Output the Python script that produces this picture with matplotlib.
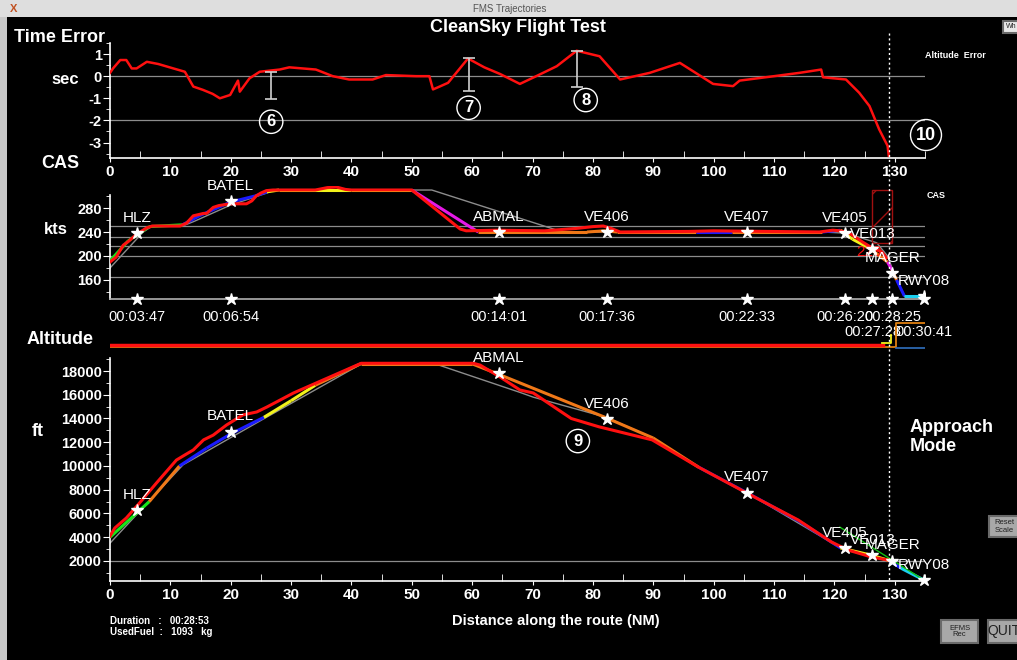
import matplotlib
matplotlib.use("Agg")
import matplotlib.pyplot as plt
from matplotlib.lines import Line2D
from matplotlib.patches import Rectangle
from matplotlib.ticker import MultipleLocator

plt.rcParams["font.family"] = ["Liberation Sans", "DejaVu Sans"]
plt.rcParams["axes.unicode_minus"] = False

W, H = 1017, 660

# ---- time error (sec) along route (NM)
te_nm = [0, 0.5, 1.7, 2.7, 3.6, 4.4, 6.1, 8, 10.5, 12.4, 13.8, 15.4, 17, 18.2, 19.9,
         20.4, 21.2, 21.5, 23.1, 24.8, 28.1, 29.7, 34.1, 36.9, 39.6, 43.5, 45.7,
         50.7, 52.9, 53.5, 54.6, 56, 59.3, 62, 64.6, 67.9, 70.6, 74, 77.3, 81.1,
         84.5, 89.4, 94.4, 99.9, 103.2, 104.3, 110, 114.2, 117.8, 118.1, 121.9,
         124.1, 125.8, 127.4, 128.8, 129]
te_sec = [0.15, 0.35, 0.73, 0.73, 0.35, 0.35, 0.65, 0.55, 0.35, 0.2, -0.47, -0.62,
          -0.8, -1.0, -0.85, -0.6, -0.2, -0.7, -0.1, 0.2, 0.3, 0.4, 0.3, 0.0,
          -0.15, -0.15, 0.05, 0.0, 0.0, -0.6, -0.47, -0.3, 0.8, 0.4, 0.1, -0.35,
          0.0, 0.45, 1.15, 0.9, -0.15, 0.15, 0.6, -0.35, -0.45, -0.2, 0.0, 0.15,
          0.3, -0.05, -0.15, -0.75, -1.35, -2.4, -3.15, -3.6]

# error bars + circled notes in the time error panel
bar_nm = [26.6, 59.4, 77.3]
bar_top = [0.2, 0.8, 1.15]
bar_bot = [-1.05, -0.65, -0.5]
te_notes = ["6", "7", "8"]
te_note_nm = [26.7, 59.4, 78.8]
te_note_sec = [-2.06, -1.43, -1.08]

# ---- CAS (kts)
cas_ref_nm = [0, 5.5, 7, 12, 14, 20, 26, 27, 53.3, 75, 118, 122, 127, 128.8, 130.3, 131.6, 135]
cas_ref_kts = [180, 240, 250, 250, 258, 285, 305, 310, 310, 240, 240, 238, 222, 200, 160, 133, 133]

cas_plan_nm = [0, 3, 6.5, 12, 15, 20, 24, 26, 28, 40, 50, 61, 79, 82, 84, 97, 103,
               118, 121, 123, 125.8, 128.8, 129.5, 130.3, 131.6, 135]
cas_plan_kts = [192, 225, 249, 252, 268, 290, 300, 307, 310, 310, 310, 240, 240,
                242, 240, 240, 240, 240, 243, 228, 213, 190, 177, 160, 133, 133]
cas_plan_mode = ["G", "G", "G", "B", "B", "B", "B", "Y", "Y", "Y", "M", "O", "O",
                 "O", "O", "B", "O", "B", "Y", "Y", "O", "M", "O", "B", "C"]

cas_meas_nm = [0, 1, 2.2, 3, 4.4, 5, 6.1, 7, 11.6, 12.7, 13.8, 15.5, 16, 17.1, 18,
               19.9, 22.6, 23.5, 24.2, 25, 25.9, 27, 34, 36, 37.5, 39, 40, 50, 58,
               59, 64, 72, 77.3, 80, 81.7, 83, 84.5, 96, 100, 117.5, 119.7, 121,
               122.5, 124.7, 126.3, 127.8, 128.6]
cas_meas_kts = [190, 198, 218, 224, 236, 240, 247, 250, 250, 255, 267, 271, 271,
                281, 284, 287, 287, 292, 300, 305, 309, 310, 310, 314, 315, 311,
                310, 310, 245, 242, 243, 242, 246, 249, 250, 246, 240, 241, 242,
                240, 243, 242, 238, 223, 213, 207, 197]

# ---- altitude (ft)
alt_ref_nm = [0, 12.1, 25.9, 42, 53.3, 67.9, 70.1, 82.2, 90, 97.5, 105.5, 121, 126, 129, 134.8]
alt_ref_ft = [3500, 10100, 14100, 18700, 18700, 16200, 15800, 14100, 12350, 9900,
              7750, 3100, 2500, 2050, 400]

alt_plan_nm = [0, 6.5, 11.5, 16, 20, 25.5, 30, 34, 41.5, 60, 64, 82, 90, 97.5,
               105.5, 114, 121, 126, 129, 131, 134.8]
alt_plan_ft = [4000, 7000, 10000, 11500, 12700, 14100, 15500, 16800, 18600, 18600,
               17800, 14100, 12350, 9900, 7750, 5400, 3100, 2500, 2050, 1400, 400]
alt_plan_mode = ["G", "O", "B", "B", "B", "Y", "Y", "O", "O", "O", "O", "O", "O",
                 "B", "B", "B", "Y", "Y", "B", "C"]

alt_meas_nm = [0, 0.8, 2.7, 4.9, 7.7, 11, 12.4, 13.8, 15.5, 17.1, 19.3, 22, 24.3,
               26, 30.4, 34.2, 41.6, 60.2, 61.3, 64.6, 67.9, 70.1, 76.4, 81, 89.8,
               97.5, 105.2, 114, 119.5, 122.2, 126.1, 128.6, 129.2]
alt_meas_ft = [4100, 4780, 5620, 6890, 8570, 10500, 10930, 11350, 12200, 12600,
               13450, 14300, 14550, 14970, 16150, 17000, 18650, 18650, 18500,
               17500, 16400, 16150, 14000, 13300, 12200, 9900, 7800, 5450, 3600,
               2930, 2340, 2100, 2050]

glide_nm = [120.9, 134.8]
glide_ft = [4850, 400]

# ---- waypoints
wpt_names = ["HLZ", "BATEL", "ABMAL", "VE406", "VE407", "VE405", "VE013", "MAGER", "RWY08"]
wpt_nm = [4.5, 20, 64.4, 82.3, 105.5, 121.8, 126.3, 129.6, 134.8]
wpt_cas = [238, 292, 240, 240, 240, 238, 212, 171, 133]
wpt_alt = [6300, 12900, 17800, 13960, 7750, 3070, 2510, 2030, 400]
wpt_time = ["00:03:47", "00:06:54", "00:14:01", "00:17:36", "00:22:33",
            "00:26:20", "00:27:28", "00:28:25", "00:30:41"]
wpt_time_row = [0, 0, 0, 0, 0, 0, 1, 0, 1]

# ---- guidance mode strip under "Altitude"
strip_red_nm = [0, 128.0]
strip_orange_nm = [0, 130.2, 130.2, 135]
strip_orange_lvl = [5, 5, 29, 29]
strip_yellow_nm = [127.9, 129.4, 129.4]
strip_yellow_lvl = [9, 9, 17]
strip_blue_nm = [130.2, 135]

MODE_COLORS = {"G": "#19e619", "B": "#1a1aff", "Y": "#f2f21a", "O": "#f07818",
               "M": "#e619e6", "C": "#1ad0f0"}
RED = "#ff1010"
GREY = "#8c8c8c"
SPAN = (0, 135)
APPROACH_NM = 129.0


def px_rect(x0, y0, x1, y1):
    return [x0 / W, 1 - y1 / H, (x1 - x0) / W, (y1 - y0) / H]


def style_axes(ax, minor_y=None):
    ax.set_facecolor("black")
    for side in ("top", "right"):
        ax.spines[side].set_visible(False)
    for side in ("left", "bottom"):
        ax.spines[side].set_color("white")
        ax.spines[side].set_linewidth(1.2)
    ax.set_xlim(*SPAN)
    ax.set_xticks(range(0, 131, 10))
    ax.set_xticks(range(5, 136, 10), minor=True)
    if minor_y is not None:
        ax.yaxis.set_minor_locator(MultipleLocator(minor_y))
    ax.tick_params(axis="x", which="major", colors="white", direction="out", length=3,
                   labelsize=11, pad=2)
    ax.tick_params(axis="x", which="minor", colors="white", direction="in", length=5)
    ax.tick_params(axis="y", which="major", colors="white", direction="out", length=5,
                   labelsize=10.5, pad=1)
    ax.tick_params(axis="y", which="minor", colors="white", direction="out", length=3)
    for lab in ax.get_xticklabels() + ax.get_yticklabels():
        lab.set_fontweight("bold")


def plot_modes(ax, xs, ys, modes, lw=2.2):
    for i, m in enumerate(modes):
        ax.plot(xs[i:i + 2], ys[i:i + 2], color=MODE_COLORS[m], lw=lw,
                solid_capstyle="butt", zorder=3)


fig = plt.figure(figsize=(W / 100, H / 100), dpi=100, facecolor="black")

# ---------------- time error panel
ax_te = fig.add_axes(px_rect(110, 43, 925, 158))
style_axes(ax_te)
ax_te.set_ylim(-3.7, 1.5)
ax_te.set_yticks([1, 0, -1, -2, -3])
ax_te.set_yticks([1.5, 0.5, -0.5, -1.5, -2.5, -3.5], minor=True)
for lvl in (0, -2):
    ax_te.axhline(lvl, color=GREY, lw=0.9, zorder=1)
ax_te.plot(te_nm, te_sec, color=RED, lw=1.8, zorder=4)
for x, t, b in zip(bar_nm, bar_top, bar_bot):
    ax_te.vlines(x, b, t, color="#d0d0d0", lw=1.2, zorder=5)
    ax_te.hlines([t, b], x - 1, x + 1, color="#d0d0d0", lw=1.2, zorder=5)
for txt, x, y in zip(te_notes, te_note_nm, te_note_sec):
    ax_te.text(x, y, txt, color="white", fontsize=12, fontweight="bold",
               ha="center", va="center",
               bbox=dict(boxstyle="circle,pad=0.25", fc="none", ec="white", lw=1))
fig.text(926 / W, 1 - 135 / H, "10", color="white", fontsize=13, fontweight="bold",
         ha="center", va="center",
         bbox=dict(boxstyle="circle,pad=0.3", fc="none", ec="white", lw=1))

# ---------------- CAS panel
ax_cas = fig.add_axes(px_rect(110, 186, 925, 299))
style_axes(ax_cas, minor_y=20)
ax_cas.set_ylim(128.3, 316.7)
ax_cas.set_yticks([160, 200, 240, 280])
ax_cas.spines["left"].set_bounds(128.3, 302)
ax_cas.spines["bottom"].set_color("#b0b0b0")
ax_cas.tick_params(axis="x", which="both", length=0, labelbottom=False)
for lvl in (250, 231, 216, 200, 165):
    ax_cas.axhline(lvl, color=GREY, lw=0.9, zorder=1)
ax_cas.plot(cas_ref_nm, cas_ref_kts, color=GREY, lw=1, zorder=2)
plot_modes(ax_cas, cas_plan_nm, cas_plan_kts, cas_plan_mode)
ax_cas.plot(cas_meas_nm, cas_meas_kts, color=RED, lw=2.2, zorder=4)
ax_cas.add_patch(Rectangle((126.3, 222), 3.3, 88, fc="none", ec="#a01010",
                           hatch="/", lw=1, zorder=5))
ax_cas.text(125.7, 207, "220", color=RED, fontsize=11, ha="center", va="center", zorder=5)
ax_cas.plot(wpt_nm, wpt_cas, ls="none", marker="*", ms=9, color="white", zorder=6)
ax_cas.plot(wpt_nm, [128.3] * len(wpt_nm), ls="none", marker="*", ms=9,
            color="white", zorder=6, clip_on=False)
for name, x, y in zip(wpt_names, wpt_nm, wpt_cas):
    ax_cas.annotate(name, (x, y), xytext=(0, 11), textcoords="offset points",
                    color="white", fontsize=11, ha="center", va="center", zorder=7)
for t, x, row in zip(wpt_time, wpt_nm, wpt_time_row):
    ax_cas.annotate(t, (x, 128.3), xytext=(0, -13 - 11 * row), textcoords="offset points",
                    color="white", fontsize=10.5, ha="center", va="center",
                    annotation_clip=False)

# ---------------- mode strip
ax_strip = fig.add_axes(px_rect(110, 318, 925, 352))
ax_strip.set_axis_off()
ax_strip.set_xlim(*SPAN)
ax_strip.set_ylim(0, 34)
ax_strip.plot(strip_orange_nm, strip_orange_lvl, color="#e08010", lw=1.3)
ax_strip.plot(strip_red_nm, [7, 7], color=RED, lw=2.5)
ax_strip.plot(strip_yellow_nm, strip_yellow_lvl, color="#f2f21a", lw=1.3)
ax_strip.plot(strip_blue_nm, [4.5, 4.5], color="#3070c0", lw=1.2)

# ---------------- altitude panel
ax_alt = fig.add_axes(px_rect(110, 358, 925, 581))
style_axes(ax_alt, minor_y=1000)
ax_alt.set_ylim(315, 19095)
ax_alt.set_yticks(range(2000, 18001, 2000))
ax_alt.axhline(2000, color=GREY, lw=0.9, zorder=1)
ax_alt.plot(alt_ref_nm, alt_ref_ft, color=GREY, lw=1, zorder=2)
plot_modes(ax_alt, alt_plan_nm, alt_plan_ft, alt_plan_mode)
ax_alt.plot(glide_nm, glide_ft, color="#10c010", lw=1, zorder=3)
ax_alt.plot(alt_meas_nm, alt_meas_ft, color=RED, lw=2.2, zorder=4)
ax_alt.plot(wpt_nm, wpt_alt, ls="none", marker="*", ms=9, color="white", zorder=6,
            clip_on=False)
for name, x, y in zip(wpt_names, wpt_nm, wpt_alt):
    ax_alt.annotate(name, (x, y), xytext=(0, 11), textcoords="offset points",
                    color="white", fontsize=11, ha="center", va="center", zorder=7)
ax_alt.text(77.5, 12100, "9", color="white", fontsize=12, fontweight="bold",
            ha="center", va="center",
            bbox=dict(boxstyle="circle,pad=0.25", fc="none", ec="white", lw=1))

# approach mode boundary across all panels
xa = (110 + (APPROACH_NM / SPAN[1]) * 815) / W
fig.add_artist(Line2D([xa, xa], [1 - 33 / H, 1 - 581 / H], color="white", lw=1,
                      ls=(0, (1.5, 2))))


# ---------------- labels
def ftext(x, y, s, **kw):
    kw.setdefault("color", "white")
    fig.text(x / W, 1 - y / H, s, **kw)


ftext(518, 28, "CleanSky Flight Test", fontsize=13, fontweight="bold", ha="center", va="center")
ftext(60, 38, "Time Error", fontsize=13, fontweight="bold", ha="center", va="center")
ftext(65, 80, "sec", fontsize=12, fontweight="bold", ha="center", va="center")
ftext(60, 163, "CAS", fontsize=13, fontweight="bold", ha="center", va="center")
ftext(56, 229, "kts", fontsize=12, fontweight="bold", ha="center", va="center")
ftext(60, 339, "Altitude", fontsize=13, fontweight="bold", ha="center", va="center")
ftext(38, 432, "ft", fontsize=13, fontweight="bold", ha="center", va="center")
ftext(910, 437, "Approach\nMode", fontsize=13, fontweight="bold", ha="left", va="center",
      linespacing=1.1)
ftext(556, 621, "Distance along the route (NM)", fontsize=10.5, fontweight="bold",
      ha="center", va="center")
ftext(110, 621, "Duration   :   00:28:53", fontsize=7, fontweight="bold", va="center")
ftext(110, 632, "UsedFuel  :   1093   kg", fontsize=7, fontweight="bold", va="center")
ftext(925, 55, "Altitude  Error", fontsize=6.5, fontweight="bold", va="center")
ftext(927, 195, "CAS", fontsize=6.5, fontweight="bold", va="center")

# ---------------- window chrome and buttons
fig.add_artist(Rectangle((0, 1 - 17 / H), 1, 17 / H, transform=fig.transFigure,
                         fc="#dedede", ec="none"))
fig.add_artist(Rectangle((0, 0), 7 / W, 1 - 17 / H, transform=fig.transFigure,
                         fc="#c8c8c8", ec="none"))
ftext(510, 9, "FMS Trajectories", fontsize=7, color="#555555", ha="center", va="center")
ftext(14, 9, "X", fontsize=8, color="#c05020", fontweight="bold", ha="center", va="center")


def button(x0, y0, x1, y1, label, size, fc="#a8a8a8"):
    fig.add_artist(Rectangle((x0 / W, 1 - y1 / H), (x1 - x0) / W, (y1 - y0) / H,
                             transform=fig.transFigure, fc=fc, ec="#6a6a6a", lw=1.5))
    ftext((x0 + x1) / 2, (y0 + y1) / 2, label, fontsize=size, color="#202020",
          ha="center", va="center", linespacing=1.0)


button(989, 516, 1020, 537, "Reset\nScale", 5.5)
button(941, 620, 978, 643, "EFMS\nRec", 5.5)
button(988, 620, 1020, 643, "QUIT", 10)
button(1003, 21, 1020, 33, "Wh", 5, fc="#e8e8e8")

fig.savefig("out.png", dpi=100, facecolor="black")
